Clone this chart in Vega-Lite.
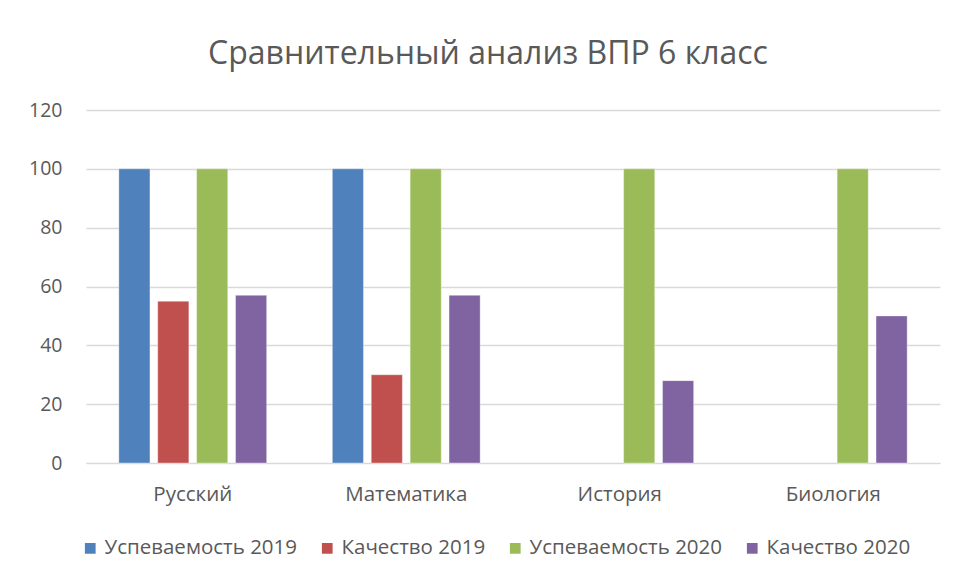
{
  "$schema": "https://vega.github.io/schema/vega-lite/v6.json",
  "width": 854,
  "height": 353,
  "autosize": {"type": "none"},
  "padding": {"left": 86, "top": 110, "right": 27, "bottom": 119},
  "background": "white",
  "title": {
    "text": "Сравнительный анализ ВПР 6 класс",
    "font": "Open Sans",
    "fontSize": 32,
    "fontWeight": "normal",
    "color": "#595959",
    "anchor": "middle",
    "dx": -25,
    "offset": 29
  },
  "data": {
    "values": [
      {"subject": "Русский", "series": "Успеваемость 2019", "value": 100},
      {"subject": "Русский", "series": "Качество 2019", "value": 55},
      {"subject": "Русский", "series": "Успеваемость 2020", "value": 100},
      {"subject": "Русский", "series": "Качество 2020", "value": 57},
      {"subject": "Математика", "series": "Успеваемость 2019", "value": 100},
      {"subject": "Математика", "series": "Качество 2019", "value": 30},
      {"subject": "Математика", "series": "Успеваемость 2020", "value": 100},
      {"subject": "Математика", "series": "Качество 2020", "value": 57},
      {"subject": "История", "series": "Успеваемость 2020", "value": 100},
      {"subject": "История", "series": "Качество 2020", "value": 28},
      {"subject": "Биология", "series": "Успеваемость 2020", "value": 100},
      {"subject": "Биология", "series": "Качество 2020", "value": 50}
    ]
  },
  "mark": {"type": "bar", "stroke": "white", "strokeWidth": 0.6, "strokeOpacity": 0.6},
  "encoding": {
    "x": {
      "field": "subject",
      "type": "nominal",
      "sort": ["Русский", "Математика", "История", "Биология"],
      "scale": {"paddingInner": 0.3076, "paddingOuter": 0.1538},
      "axis": {
        "title": null,
        "labelAngle": 0,
        "labelFont": "Open Sans",
        "labelFontSize": 20.5,
        "labelColor": "#595959",
        "labelPadding": 21,
        "ticks": false,
        "domain": true,
        "domainColor": "#d9d9d9",
        "grid": false
      }
    },
    "xOffset": {
      "field": "series",
      "type": "nominal",
      "scale": {
        "domain": ["Успеваемость 2019", "Качество 2019", "Успеваемость 2020", "Качество 2020"],
        "paddingInner": 0.2,
        "paddingOuter": 0
      }
    },
    "y": {
      "field": "value",
      "type": "quantitative",
      "scale": {"domain": [0, 120]},
      "axis": {
        "title": null,
        "values": [0, 20, 40, 60, 80, 100, 120],
        "labelFont": "Open Sans",
        "labelFontSize": 19.5,
        "labelColor": "#595959",
        "labelPadding": 24,
        "ticks": false,
        "domain": false,
        "grid": true,
        "gridColor": "#d9d9d9",
        "gridWidth": 1.3
      }
    },
    "color": {
      "field": "series",
      "type": "nominal",
      "scale": {
        "domain": ["Успеваемость 2019", "Качество 2019", "Успеваемость 2020", "Качество 2020"],
        "range": ["#4f81bd", "#c0504d", "#9bbb59", "#8064a2"]
      },
      "legend": {
        "title": null,
        "orient": "none",
        "direction": "horizontal",
        "legendX": -6,
        "legendY": 428,
        "columns": 4,
        "symbolType": "square",
        "symbolSize": 115,
        "symbolStrokeWidth": 0,
        "symbolOpacity": 1,
        "labelFont": "Open Sans",
        "labelFontSize": 20.5,
        "labelLimit": 400,
        "labelColor": "#595959",
        "labelOffset": 4,
        "columnPadding": 19
      }
    }
  },
  "config": {"view": {"stroke": null}}
}
